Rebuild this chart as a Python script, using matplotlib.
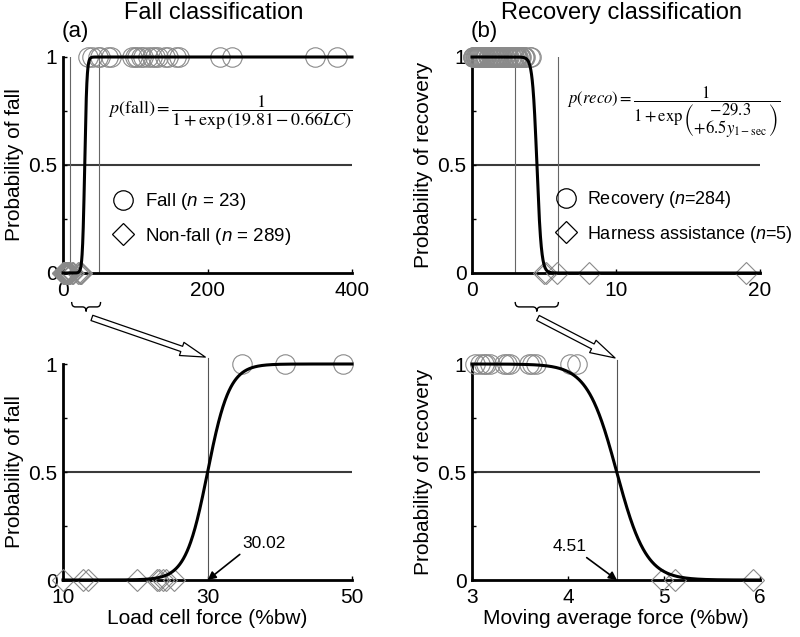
import numpy as np
import matplotlib
matplotlib.use("Agg")
import matplotlib.pyplot as plt
from matplotlib.lines import Line2D
from matplotlib.patches import ConnectionPatch, PathPatch
from matplotlib.path import Path
from matplotlib.ticker import FixedLocator

plt.rcParams['font.family'] = ['Liberation Sans', 'DejaVu Sans']
plt.rcParams['mathtext.fontset'] = 'custom'
plt.rcParams['mathtext.rm'] = 'Liberation Sans'
plt.rcParams['mathtext.it'] = 'Liberation Sans:italic'

# ---------------- data ----------------
fall_b0, fall_b1 = 19.81, 0.66          # p(fall) = 1/(1+exp(b0 - b1*LC))
reco_b0, reco_b1 = -29.3, 6.5           # p(reco) = 1/(1+exp(b0 + b1*y))
fall_threshold = 30.02
reco_threshold = 4.51

fall_lc = [34.8, 40.7, 48.8, 51.5, 62.7, 66, 95, 99, 102, 108, 111, 117,
           122.8, 127, 132, 141, 146, 157, 160, 217, 233.5, 349, 379]
nonfall_lc = [0.2, 0.5, 0.8, 1.1, 1.4, 1.7, 2.0, 2.3, 2.7, 3.0, 3.4, 3.8,
              4.2, 4.6, 5.0, 5.5, 6.0, 6.5, 7.0, 7.6, 8.2, 8.8, 9.4,
              10.05, 12.8, 13.4, 20.2, 23.0, 23.3, 23.9, 24.3, 25.3]
reco_y = [0.05, 0.1, 0.15, 0.2, 0.25, 0.3, 0.35, 0.4, 0.45, 0.5, 0.55, 0.6,
          0.7, 0.75, 0.8, 0.9, 0.95, 1.0, 1.1, 1.15, 1.2, 1.3, 1.35, 1.4,
          1.5, 1.55, 1.6, 1.7, 1.75, 1.8, 1.9, 2.0, 2.1, 2.2, 2.3, 2.4,
          2.5, 2.6, 2.7, 2.8, 2.9, 2.95,
          3.03, 3.08, 3.12, 3.15, 3.19, 3.33, 3.36, 3.40, 3.59, 3.62, 3.67,
          4.02, 4.09]
harness_y = [4.98, 5.11, 5.93, 8.1, 19.0]

fall_titles = ["Fall classification", "Recovery classification"]
panel_tags = ["(a)", "(b)"]
ylabels = ["Probability of fall", "Probability of recovery"]
xlabels = ["Load cell force (%bw)", "Moving average force (%bw)"]
fall_legend = ["Fall ($n$ = 23)", "Non-fall ($n$ = 289)"]
reco_legend = ["Recovery ($n$=284)", "Harness assistance ($n$=5)"]

# ---------------- figure ----------------
fig = plt.figure(figsize=(8.0, 6.37), dpi=100)
W, H = 800, 637
def rect(l, t, r, b):
    return [l / W, 1 - b / H, (r - l) / W, (b - t) / H]

ax1 = fig.add_axes(rect(63, 57, 352, 273))
ax2 = fig.add_axes(rect(472, 57, 760, 273))
ax3 = fig.add_axes(rect(63, 364, 352, 580))
ax4 = fig.add_axes(rect(472, 364, 760, 580))

GRAY = '#8a8a8a'
CURVE_LW = 2.2
TICK_FS = 15
LABEL_FS = 15

def style(ax, xlim, xticks, ylab, xlab=None):
    ax.set_xlim(*xlim)
    ax.set_ylim(0, 1)
    for s in ['top', 'right']:
        ax.spines[s].set_visible(False)
    for s in ['left', 'bottom']:
        ax.spines[s].set_linewidth(2.0)
        ax.spines[s].set_color('black')
    ax.set_xticks(xticks)
    ax.set_xticklabels([f"{t:g}" for t in xticks])
    ax.set_yticks([0, 0.5, 1])
    ax.set_yticklabels(["0", "0.5", "1"])
    ax.yaxis.set_minor_locator(FixedLocator([0.25, 0.75]))
    ax.tick_params(axis='both', which='both', direction='in', length=3,
                   width=1, labelsize=TICK_FS)
    ax.tick_params(axis='x', pad=6)
    ax.tick_params(axis='y', pad=4)
    ax.set_ylabel(ylab, fontsize=LABEL_FS, labelpad=3)
    if xlab:
        ax.set_xlabel(xlab, fontsize=LABEL_FS, labelpad=1)
    ax.axhline(0.5, color='#3a3a3a', lw=1.5, zorder=1)

style(ax1, (0, 400), [0, 200, 400], ylabels[0])
style(ax2, (0, 20), [0, 10, 20], ylabels[1])
style(ax3, (10, 50), [10, 30, 50], ylabels[0], xlabels[0])
style(ax4, (3, 6), [3, 4, 5, 6], ylabels[1], xlabels[1])

def p_fall(x):
    return 1 / (1 + np.exp(fall_b0 - fall_b1 * x))

def p_reco(y):
    return 1 / (1 + np.exp(reco_b0 + reco_b1 * y))

mk_c = dict(marker='o', ls='none', mfc='none', mec=GRAY, mew=0.8, ms=14,
            clip_on=False, zorder=3)
mk_d = dict(marker='D', ls='none', mfc='none', mec=GRAY, mew=0.8, ms=11,
            clip_on=False, zorder=3)

# panel (a) top
xs = np.linspace(0, 400, 2000)
ax1.plot(fall_lc, np.ones(len(fall_lc)), **mk_c)
ax1.plot(nonfall_lc, np.zeros(len(nonfall_lc)), **mk_d)
ax1.plot(xs, p_fall(xs), color='black', lw=CURVE_LW, zorder=4, clip_on=False)
for v in (10, 50):
    ax1.axvline(v, color='#666666', lw=0.8, zorder=2)

# panel (b) top
ys = np.linspace(0, 20, 2000)
ax2.plot(reco_y, np.ones(len(reco_y)), **mk_c)
ax2.plot(harness_y, np.zeros(len(harness_y)), **mk_d)
ax2.plot(ys, p_reco(ys), color='black', lw=CURVE_LW, zorder=4, clip_on=False)
for v in (3, 6):
    ax2.axvline(v, color='#666666', lw=0.8, zorder=2)

# zoomed (a)
xz = np.linspace(10, 50, 800)
fz = [v for v in fall_lc if 10 <= v <= 50]
nz = [v for v in nonfall_lc if 10 <= v <= 50]
ax3.plot(fz, [1] * len(fz), **mk_c)
ax3.plot(nz, [0] * len(nz), **mk_d)
ax3.plot(xz, p_fall(xz), color='black', lw=CURVE_LW, zorder=4, clip_on=False)
ax3.plot([fall_threshold, fall_threshold], [0, 1.03], color='#555555', lw=0.8,
         clip_on=False, zorder=2)
ax3.annotate(f"{fall_threshold:.2f}", xy=(fall_threshold, 0), xytext=(34.8, 0.17),
             fontsize=12.5, ha='left', va='center',
             arrowprops=dict(arrowstyle='-|>', color='black', lw=1.2,
                             mutation_scale=12, shrinkA=1, shrinkB=0,
                             relpos=(0.05, 0.0)))

# zoomed (b)
yz = np.linspace(3, 6, 800)
rz = [v for v in reco_y if 3 <= v <= 6]
hz = [v for v in harness_y if 3 <= v <= 6]
ax4.plot(rz, [1] * len(rz), **mk_c)
ax4.plot(hz, [0] * len(hz), **mk_d)
ax4.plot(yz, p_reco(yz), color='black', lw=CURVE_LW, zorder=4, clip_on=False)
ax4.plot([reco_threshold, reco_threshold], [0, 1.02], color='#555555', lw=0.8,
         clip_on=False, zorder=2)
ax4.annotate(f"{reco_threshold:.2f}", xy=(reco_threshold, 0), xytext=(4.02, 0.155),
             fontsize=12.5, ha='center', va='center',
             arrowprops=dict(arrowstyle='-|>', color='black', lw=1.2,
                             mutation_scale=12, shrinkA=1, shrinkB=0,
                             relpos=(0.85, 0.0)))

# titles & panel tags
for ax, t, tag in ((ax1, fall_titles[0], panel_tags[0]), (ax2, fall_titles[1], panel_tags[1])):
    ax.text(0.52, 1.205, t, transform=ax.transAxes, ha='center', va='center', fontsize=17)
    ax.text(-0.005, 1.12, tag, transform=ax.transAxes, ha='left', va='center', fontsize=16)

# equations
ax1.text(1.0, 0.74,
         r'$p\left(\mathrm{fall}\right)=\dfrac{1}{1+\exp\left(19.81-0.66LC\right)}$',
         transform=ax1.transAxes, ha='right', va='center', fontsize=13,
         math_fontfamily='stix')
ax2.text(0.33, 0.745,
         r'$p\left(reco\right)=\dfrac{1}{1+\exp\genfrac{(}{)}{0}{0}{-29.3}{+6.5y_{1-\mathrm{sec}}}}$',
         transform=ax2.transAxes, ha='left', va='center', fontsize=12,
         math_fontfamily='stix')

# legends
def make_handles():
    return [Line2D([], [], marker='o', ls='none', mfc='none', mec='black', mew=0.9, ms=14),
            Line2D([], [], marker='D', ls='none', mfc='none', mec='black', mew=0.9, ms=11)]

ax1.legend(make_handles(), fall_legend, loc='center left', bbox_to_anchor=(0.17, 0.25),
           frameon=False, fontsize=13.5, handlelength=1.2, handletextpad=0.55,
           labelspacing=0.7, borderpad=0, borderaxespad=0)
ax2.legend(make_handles(), reco_legend, loc='center left', bbox_to_anchor=(0.29, 0.26),
           frameon=False, fontsize=13, handlelength=1.2, handletextpad=0.55,
           labelspacing=0.75, borderpad=0, borderaxespad=0)

# braces marking the zoomed range
def brace(ax, x0, x1, d):
    tr = ax.get_xaxis_transform()
    ytop, ymid, ytip = -0.134, -0.157, -0.178
    xc = 0.5 * (x0 + x1)
    verts = [(x0, ytop), (x0, ymid), (x0 + d, ymid), (xc - d, ymid),
             (xc, ymid), (xc, ytip), (xc, ymid), (xc + d, ymid),
             (x1 - d, ymid), (x1, ymid), (x1, ytop)]
    codes = [Path.MOVETO, Path.CURVE3, Path.CURVE3, Path.LINETO,
             Path.CURVE3, Path.CURVE3, Path.CURVE3, Path.CURVE3,
             Path.LINETO, Path.CURVE3, Path.CURVE3]
    ax.add_patch(PathPatch(Path(verts, codes), fill=False, lw=1.0,
                           edgecolor='black', transform=tr, clip_on=False))

brace(ax1, 12, 52, 5)
brace(ax2, 3, 6, 0.28)

# hollow arrows to the zoomed panels
for axA, xa, axB, xb, yb in ((ax1, 40, ax3, 29.7, 1.032), (ax2, 4.58, ax4, 4.49, 1.028)):
    con = ConnectionPatch(xyA=(xa, -0.208), coordsA=axA.get_xaxis_transform(),
                          xyB=(xb, yb), coordsB=axB.transData,
                          arrowstyle='simple,head_length=1.8,head_width=1.0,tail_width=0.4',
                          mutation_scale=10, fc='white', ec='black', lw=0.9,
                          shrinkA=0, shrinkB=0, zorder=10)
    fig.add_artist(con)

fig.savefig('out.png', dpi=100)
